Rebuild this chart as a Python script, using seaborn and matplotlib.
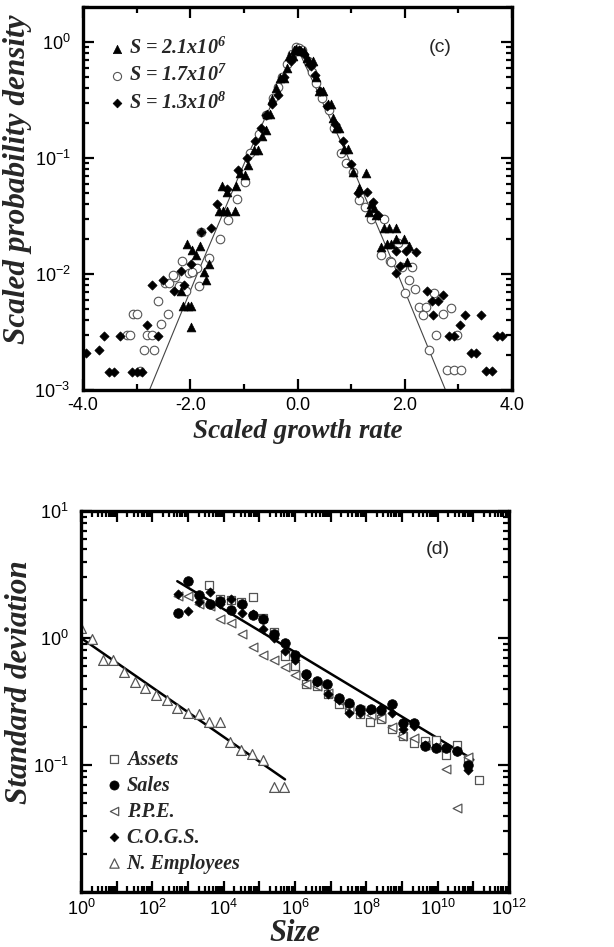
import numpy as np
import pandas as pd
import matplotlib
matplotlib.use("Agg")
import matplotlib.pyplot as plt
import matplotlib.ticker as mticker
import seaborn as sns

# ---------------- data: panel (c) ----------------
tri_x = [-2.13, -2.05, -1.99, -1.99, -2.18, -1.74, -1.70, -1.65, -2.06, -1.97, -1.90, -1.81,
         -1.40, -1.31, -1.47, -1.38, -1.31, -1.17, -1.15, -1.08, -0.98, -0.92, -0.81, -0.74,
         -0.66, -0.59, -0.56, -0.51, -0.47, -0.40, -0.32, -0.26, -0.20, -0.16, -0.09, -0.06, -0.02,
         0.03, 0.06, 0.12, 0.17, 0.22, 0.28, 0.34, 0.41, 0.47, 0.56, 0.62, 0.67, 0.72, 0.78,
         0.87, 0.94, 1.03, 1.14, 1.28, 1.34, 1.37, 1.43, 1.47, 1.56, 1.62, 1.67, 1.70, 1.75,
         1.84, 1.84, 1.98, 2.05, 2.07]
tri_y = [0.0053, 0.0053, 0.0053, 0.0035, 0.0071, 0.0105, 0.0089, 0.0123, 0.018, 0.016, 0.0145, 0.0174,
         0.057, 0.051, 0.035, 0.035, 0.035, 0.035, 0.057, 0.074, 0.072, 0.087, 0.117, 0.117,
         0.155, 0.174, 0.24, 0.24, 0.32, 0.40, 0.49, 0.49, 0.60, 0.76, 0.76, 0.85, 0.87,
         0.85, 0.83, 0.83, 0.72, 0.68, 0.68, 0.50, 0.38, 0.38, 0.29, 0.29, 0.22, 0.18, 0.18,
         0.12, 0.12, 0.076, 0.055, 0.074, 0.034, 0.040, 0.037, 0.032, 0.017, 0.025, 0.018, 0.025, 0.018,
         0.025, 0.020, 0.020, 0.0126, 0.0174]

cir_x = [-3.18, -3.12, -3.06, -3.00, -2.94, -2.87, -2.81, -2.72, -2.68, -2.61, -2.55, -2.41,
         -2.48, -2.40, -2.29, -2.21, -2.08, -2.02, -1.87, -1.84, -2.32, -2.15, -1.97, -1.80,
         -1.65, -1.45, -1.30, -1.12, -0.97, -0.89, -0.72, -0.59, -0.45, -0.37, -0.28, -0.19,
         -0.10, -0.03, 0.03, 0.09, 0.19, 0.27, 0.34, 0.45, 0.58, 0.68, 0.81, 0.90, 1.03, 1.15,
         1.25, 1.37, 1.62, 1.56, 1.73, 1.87, 2.13, 1.75, 1.95, 2.07, 2.00, 2.20, 2.26, 2.39,
         2.34, 2.54, 2.59, 2.71, 2.86, 2.46, 2.78, 2.91, 3.04, 2.98]
cir_y = [0.0030, 0.0030, 0.0045, 0.0045, 0.00145, 0.0022, 0.0030, 0.0030, 0.0022, 0.0059, 0.0037, 0.0045,
         0.0083, 0.0083, 0.0095, 0.0079, 0.0072, 0.0102, 0.0112, 0.0079, 0.0098, 0.0129, 0.0105, 0.023,
         0.0138, 0.020, 0.029, 0.044, 0.062, 0.11, 0.162, 0.234, 0.33, 0.41, 0.50, 0.65,
         0.78, 0.91, 0.88, 0.85, 0.69, 0.55, 0.44, 0.33, 0.26, 0.18, 0.11, 0.090, 0.076, 0.043,
         0.038, 0.030, 0.030, 0.0145, 0.0129, 0.0186, 0.0115, 0.0126, 0.0115, 0.0089, 0.0068, 0.0074, 0.0052, 0.0052,
         0.0044, 0.0068, 0.0030, 0.0045, 0.0051, 0.0022, 0.00148, 0.00148, 0.00148, 0.0030]

dia_x = [-3.94, -3.71, -3.61, -3.51, -3.42, -3.31, -3.09, -3.00, -2.90, -2.81, -2.71, -2.61,
         -2.50, -2.31, -2.12, -2.18, -1.99, -1.80, -1.62, -1.51, -1.31, -1.11, -0.95, -0.80,
         -0.68, -0.59, -0.48, -0.37, -0.25, -0.12, 0.02, 0.12, 0.25, 0.32, 0.42, 0.55, 0.70,
         0.85, 0.99, 1.12, 1.30, 1.40, 1.51, 1.84, 2.02, 2.21, 1.83, 1.92, 2.41, 2.50, 2.52,
         2.62, 2.71, 2.83, 2.92, 3.03, 3.12, 3.23, 3.33, 3.43, 3.52, 3.62, 3.72, 3.82]
dia_y = [0.0021, 0.0022, 0.0029, 0.00144, 0.00144, 0.0029, 0.00144, 0.00144, 0.00144, 0.0036, 0.0081, 0.0029,
         0.0089, 0.0072, 0.0081, 0.0107, 0.0123, 0.023, 0.025, 0.040, 0.054, 0.078, 0.10, 0.14,
         0.18, 0.234, 0.29, 0.35, 0.50, 0.69, 0.85, 0.78, 0.62, 0.52, 0.38, 0.28, 0.195,
         0.14, 0.089, 0.050, 0.051, 0.042, 0.032, 0.0158, 0.0158, 0.0155, 0.0102, 0.0117, 0.0072, 0.0058, 0.0044,
         0.0058, 0.0066, 0.0029, 0.0029, 0.0036, 0.0044, 0.0021, 0.0021, 0.0044, 0.00145, 0.00145, 0.0029, 0.0029]

fit_c_x = [-2.76, -1.87, -0.95, 0.0, 0.95, 1.87, 2.76]
fit_c_y = [0.001, 0.01, 0.1, 0.88, 0.1, 0.01, 0.001]

c_labels = [r"S = 2.1x10$^{6}$", r"S = 1.7x10$^{7}$", r"S = 1.3x10$^{8}$"]
c_xticks = [-4, -2, 0, 2, 4]
c_xticklabels = ["-4.0", "-2.0", "0.0", "2.0", "4.0"]

# ---------------- data: panel (d) ----------------
sales_lx = [2.71, 3.01, 3.31, 3.61, 3.89, 4.20, 4.52, 4.81, 5.11, 5.41, 5.71, 6.01, 6.32, 6.62,
            6.91, 7.22, 7.52, 7.82, 8.12, 8.42, 8.72, 9.03, 9.33, 9.64, 9.94, 10.24, 10.54, 10.84]
sales_ly = [0.20, 0.45, 0.34, 0.27, 0.29, 0.22, 0.27, 0.18, 0.15, 0.03, -0.04, -0.13, -0.28, -0.34,
            -0.36, -0.47, -0.51, -0.56, -0.56, -0.57, -0.52, -0.67, -0.67, -0.85, -0.87, -0.87, -0.89, -1.00]

assets_lx = [3.59, 3.89, 4.20, 4.50, 4.81, 5.11, 5.41, 5.71, 6.01, 6.32, 6.62, 6.93, 7.22, 7.52,
             7.82, 8.11, 8.42, 8.72, 9.03, 9.33, 9.64, 9.94, 10.24, 10.54, 10.84, 11.15]
assets_ly = [0.42, 0.31, 0.30, 0.28, 0.32, 0.16, 0.05, -0.14, -0.22, -0.36, -0.38, -0.44, -0.52, -0.55,
             -0.60, -0.66, -0.64, -0.72, -0.77, -0.83, -0.81, -0.80, -0.92, -0.84, -0.95, -1.12]

ppe_lx = [2.71, 3.01, 3.31, 3.61, 3.89, 4.20, 4.52, 4.81, 5.11, 5.41, 5.71, 6.01, 6.32, 6.62,
          6.93, 7.21, 7.52, 7.82, 8.12, 8.42, 8.72, 9.01, 9.33, 9.64, 9.94, 10.24, 10.54, 10.84]
ppe_ly = [0.33, 0.33, 0.27, 0.25, 0.15, 0.12, 0.03, -0.07, -0.13, -0.17, -0.23, -0.29, -0.36, -0.38,
          -0.43, -0.49, -0.55, -0.57, -0.61, -0.63, -0.70, -0.77, -0.79, -0.84, -0.86, -1.03, -1.34, -0.94]

cogs_lx = [2.71, 3.01, 3.31, 3.61, 3.89, 4.20, 4.52, 4.81, 5.11, 5.41, 5.71, 6.01, 6.32, 6.62,
           6.93, 7.22, 7.52, 7.82, 8.11, 8.42, 8.72, 9.03, 9.33, 9.64, 9.94, 10.24, 10.54, 10.84]
cogs_ly = [0.35, 0.21, 0.28, 0.36, 0.27, 0.31, 0.20, 0.19, 0.07, 0.00, -0.10, -0.17, -0.30, -0.35,
           -0.44, -0.49, -0.59, -0.59, -0.57, -0.55, -0.59, -0.72, -0.69, -0.84, -0.86, -0.86, -0.89, -1.04]

emp_lx = [0.00, 0.30, 0.61, 0.89, 1.20, 1.51, 1.80, 2.10, 2.40, 2.70, 3.01, 3.30, 3.59, 3.89,
          4.19, 4.50, 4.80, 5.11, 5.41, 5.70]
emp_ly = [0.08, -0.01, -0.17, -0.17, -0.27, -0.35, -0.39, -0.45, -0.49, -0.55, -0.59, -0.60, -0.66, -0.66,
          -0.82, -0.88, -0.91, -0.96, -1.17, -1.17]

fit_main_x = [10 ** 2.70, 10 ** 11.0]
fit_main_y = [2.8, 0.11]
fit_emp_x = [1.0, 10 ** 5.72]
fit_emp_y = [1.0, 0.077]

d_labels = ["Assets", "Sales", "P.P.E.", "C.O.G.S.", "N. Employees"]

# ---------------- style ----------------
sns.set_style("ticks")
plt.rcParams["font.family"] = ["Liberation Sans", "DejaVu Sans"]
plt.rcParams["mathtext.fontset"] = "custom"
plt.rcParams["mathtext.it"] = "Liberation Serif:italic:bold"
plt.rcParams["mathtext.rm"] = "Liberation Serif:italic:bold"
plt.rcParams["mathtext.bf"] = "Liberation Serif:italic:bold"

SERIF_BI = dict(family="Liberation Serif", weight="bold", style="italic")
GRAY = "#555555"

fig = plt.figure(figsize=(6.14, 9.47), dpi=100)
ax1 = fig.add_axes([83 / 614, 1 - 390 / 947, (512 - 83) / 614, (390 - 7) / 947])
ax2 = fig.add_axes([81 / 614, 1 - 892 / 947, (509 - 81) / 614, (892 - 511) / 947])


def style_axes(ax):
    for sp in ax.spines.values():
        sp.set_linewidth(2.4)
        sp.set_color("black")
    ax.tick_params(which="both", direction="in", top=True, right=True, width=1.6,
                   labelsize=13, colors="black")
    ax.tick_params(axis="x", which="both", pad=5)
    ax.tick_params(axis="y", which="both", pad=9)
    ax.tick_params(which="major", length=8)
    ax.tick_params(which="minor", length=4)


# ---------------- panel (c) ----------------
df_fit_c = pd.DataFrame({"x": fit_c_x, "y": fit_c_y})
sns.lineplot(data=df_fit_c, x="x", y="y", ax=ax1, color="#444444", linewidth=0.8,
             sort=False, legend=False)

df_tri = pd.DataFrame({"x": tri_x, "y": tri_y})
df_cir = pd.DataFrame({"x": cir_x, "y": cir_y})
df_dia = pd.DataFrame({"x": dia_x, "y": dia_y})
sns.scatterplot(data=df_tri, x="x", y="y", ax=ax1, marker="^", s=40, color="black",
                edgecolor="black", linewidth=0.5, label=c_labels[0], zorder=3)
sns.scatterplot(data=df_cir, x="x", y="y", ax=ax1, marker="o", s=38, facecolor="white",
                edgecolor=GRAY, linewidth=0.8, label=c_labels[1], zorder=2)
sns.scatterplot(data=df_dia, x="x", y="y", ax=ax1, marker="D", s=22, color="black",
                edgecolor="black", linewidth=0.5, label=c_labels[2], zorder=4)

ax1.set_yscale("log")
ax1.set_xlim(-4, 4)
ax1.set_ylim(1e-3, 2.0)
ax1.set_xticks(c_xticks)
ax1.set_xticklabels(c_xticklabels)
ax1.xaxis.set_minor_locator(mticker.MultipleLocator(1))
ax1.yaxis.set_major_locator(mticker.LogLocator(base=10, numticks=10))
ax1.yaxis.set_minor_locator(mticker.LogLocator(base=10, subs=np.arange(2, 10), numticks=20))
ax1.yaxis.set_minor_formatter(mticker.NullFormatter())
style_axes(ax1)
ax1.set_xlabel("Scaled growth rate", fontdict=dict(SERIF_BI, size=19.5))
ax1.xaxis.set_label_coords(0.5, -0.075)
ax1.set_ylabel("Scaled probability density", fontdict=dict(SERIF_BI, size=22.5))
ax1.yaxis.set_label_coords(-0.118, 0.55)
ax1.text(0.832, 0.893, "(c)", transform=ax1.transAxes, fontsize=14, ha="center", va="center")
leg1 = ax1.legend(loc="upper left", bbox_to_anchor=(0.05, 0.92), frameon=False,
                  prop=dict(SERIF_BI, size=14.5), handletextpad=0.0, labelspacing=0.3,
                  handlelength=1.2, borderaxespad=0.0, borderpad=0.0, markerscale=0.95)

# ---------------- panel (d) ----------------
df_assets = pd.DataFrame({"x": np.power(10.0, assets_lx), "y": np.power(10.0, assets_ly)})
df_sales = pd.DataFrame({"x": np.power(10.0, sales_lx), "y": np.power(10.0, sales_ly)})
df_ppe = pd.DataFrame({"x": np.power(10.0, ppe_lx), "y": np.power(10.0, ppe_ly)})
df_cogs = pd.DataFrame({"x": np.power(10.0, cogs_lx), "y": np.power(10.0, cogs_ly)})
df_emp = pd.DataFrame({"x": np.power(10.0, emp_lx), "y": np.power(10.0, emp_ly)})

sns.lineplot(data=pd.DataFrame({"x": fit_main_x, "y": fit_main_y}), x="x", y="y", ax=ax2,
             color="black", linewidth=1.8, legend=False)
sns.lineplot(data=pd.DataFrame({"x": fit_emp_x, "y": fit_emp_y}), x="x", y="y", ax=ax2,
             color="black", linewidth=1.8, legend=False)

sns.scatterplot(data=df_assets, x="x", y="y", ax=ax2, marker="s", s=34, facecolor="white",
                edgecolor=GRAY, linewidth=0.9, label=d_labels[0], zorder=2)
sns.scatterplot(data=df_sales, x="x", y="y", ax=ax2, marker="o", s=48, color="black",
                edgecolor="black", linewidth=0.5, label=d_labels[1], zorder=4)
sns.scatterplot(data=df_ppe, x="x", y="y", ax=ax2, marker="<", s=40, facecolor="white",
                edgecolor=GRAY, linewidth=0.9, label=d_labels[2], zorder=2)
sns.scatterplot(data=df_cogs, x="x", y="y", ax=ax2, marker="D", s=22, color="black",
                edgecolor="black", linewidth=0.5, label=d_labels[3], zorder=5)
sns.scatterplot(data=df_emp, x="x", y="y", ax=ax2, marker="^", s=50, facecolor="white",
                edgecolor=GRAY, linewidth=0.9, label=d_labels[4], zorder=2)

ax2.set_xscale("log")
ax2.set_yscale("log")
ax2.set_xlim(1, 1e12)
ax2.set_ylim(1e-2, 1e1)
ax2.xaxis.set_major_locator(mticker.LogLocator(base=10, subs=(1.0,), numticks=20))
ax2.xaxis.set_minor_locator(mticker.LogLocator(base=10, subs=np.arange(2, 10), numticks=200))
ax2.xaxis.set_major_formatter(mticker.FuncFormatter(
    lambda v, p: r"$\mathdefault{10^{%d}}$" % round(np.log10(v)) if round(np.log10(v)) % 2 == 0 else ""))
ax2.xaxis.set_minor_formatter(mticker.NullFormatter())
ax2.set_yticks([0.01, 0.1, 1, 10])
ax2.set_yticklabels(["", r"$\mathdefault{10^{-1}}$", r"$\mathdefault{10^{0}}$", r"$\mathdefault{10^{1}}$"])
ax2.yaxis.set_minor_locator(mticker.LogLocator(base=10, subs=np.arange(2, 10), numticks=20))
ax2.yaxis.set_minor_formatter(mticker.NullFormatter())
style_axes(ax2)
ax2.set_xlabel("Size", fontdict=dict(SERIF_BI, size=22))
ax2.xaxis.set_label_coords(0.5, -0.072)
ax2.set_ylabel("Standard deviation", fontdict=dict(SERIF_BI, size=22.5))
ax2.yaxis.set_label_coords(-0.11, 0.55)
ax2.text(0.834, 0.898, "(d)", transform=ax2.transAxes, fontsize=14, ha="center", va="center")
leg2 = ax2.legend(loc="lower left", bbox_to_anchor=(0.05, 0.048), frameon=False,
                  prop=dict(SERIF_BI, size=14.5), handletextpad=0.0, labelspacing=0.3,
                  handlelength=1.2, borderaxespad=0.0, borderpad=0.0, markerscale=0.95)

fig.savefig("out.png", dpi=100)
